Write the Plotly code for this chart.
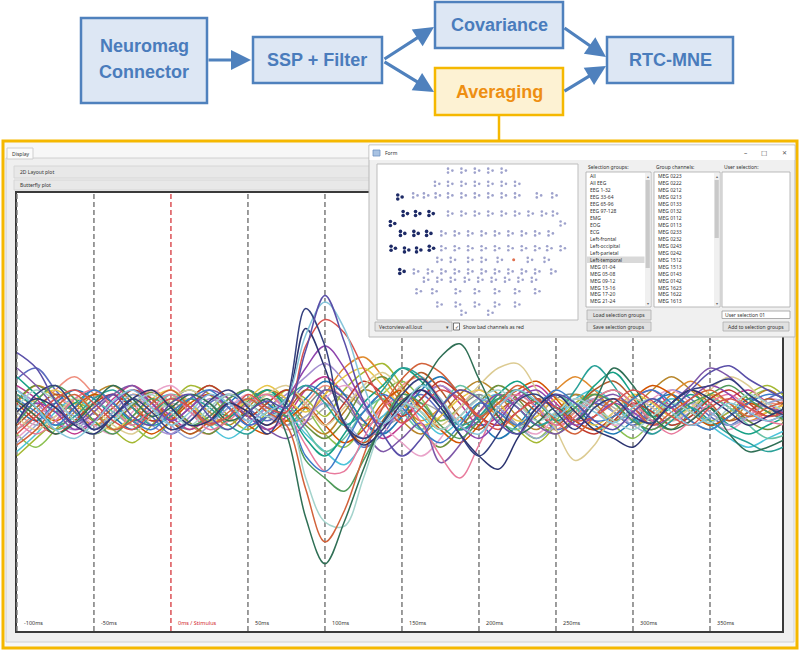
import plotly.graph_objects as go

W, H = 800, 651

# ---------------- data ----------------
time_ms = [-100, -87.5, -75, -62.5, -50, -37.5, -25, -12.5, 0, 12.5, 25, 37.5, 50, 62.5, 75, 87.5,
           100, 112.5, 125, 137.5, 150, 162.5, 175, 187.5, 200, 212.5, 225, 237.5, 250, 262.5,
           275, 287.5, 300, 312.5, 325, 337.5, 350, 362.5, 375, 387.5, 400]

ch01 = [-0.05, 0.08, 0.12, 0.02, -0.08, -0.02, 0.06, 0.0, -0.08, -0.04, 0.05, 0.1, 0.02, -0.1, 0.05, 0.47, 0.3, -0.05, -0.12, -0.05, 0.08, 0.15, 0.05, -0.1, -0.2, -0.1, 0.05, 0.08, 0.0, -0.08, 0.02, 0.06, -0.02, -0.05, 0.04, 0.1, 0.12, 0.15, 0.08, 0.02, -0.02]
ch02 = [0.27, 0.2, 0.05, -0.05, 0.02, 0.08, -0.02, -0.06, 0.04, 0.08, -0.02, -0.08, 0.0, 0.05, 0.02, 0.28, 0.53, 0.32, 0.05, -0.1, -0.2, -0.12, 0.02, 0.1, 0.06, -0.05, -0.1, 0.0, 0.08, 0.04, -0.04, -0.08, 0.0, 0.06, 0.02, 0.1, 0.18, 0.21, 0.15, 0.1, 0.05]
ch03 = [0.1, 0.02, -0.08, -0.12, -0.05, 0.05, 0.1, 0.02, -0.06, 0.0, 0.08, 0.04, -0.04, 0.0, 0.06, 0.35, 0.5, 0.38, 0.12, -0.05, 0.02, 0.12, 0.06, -0.06, -0.1, 0.02, 0.1, 0.05, -0.02, 0.04, 0.0, -0.05, 0.02, 0.06, 0.0, -0.06, -0.02, 0.04, 0.0, -0.04, 0.0]
ch04 = [-0.1, -0.02, 0.06, 0.1, 0.04, -0.04, -0.08, 0.0, 0.06, 0.02, -0.05, -0.02, 0.08, 0.02, 0.0, 0.3, 0.42, 0.36, 0.2, 0.05, -0.05, 0.02, 0.1, 0.06, -0.02, -0.08, 0.0, 0.05, 0.02, -0.04, -0.02, 0.04, 0.1, 0.05, -0.02, -0.06, 0.02, 0.06, 0.02, -0.02, 0.0]
ch05 = [0.05, -0.02, -0.1, -0.05, 0.04, 0.12, 0.06, -0.02, 0.02, 0.08, 0.04, -0.04, 0.0, 0.06, -0.1, -0.48, -0.69, -0.5, -0.26, -0.05, 0.05, 0.12, 0.25, 0.31, 0.15, -0.02, -0.1, -0.05, 0.02, -0.04, 0.05, 0.2, 0.12, -0.02, -0.08, -0.04, 0.02, -0.1, -0.18, -0.16, -0.12]
ch06 = [-0.15, -0.08, 0.02, 0.08, 0.0, -0.08, -0.04, 0.04, 0.1, 0.02, -0.06, 0.0, 0.06, 0.0, -0.06, -0.35, -0.59, -0.45, -0.2, 0.02, 0.15, 0.22, 0.18, 0.08, -0.02, 0.04, 0.12, 0.06, -0.04, -0.1, -0.02, 0.06, 0.02, -0.06, 0.0, 0.06, 0.1, 0.04, -0.02, 0.02, 0.05]
ch07 = [0.02, 0.1, 0.05, -0.04, -0.1, -0.04, 0.04, 0.08, 0.0, -0.06, 0.02, 0.08, 0.04, -0.02, 0.0, -0.3, -0.5, -0.52, -0.3, -0.06, 0.04, 0.0, -0.08, -0.02, 0.06, 0.1, 0.04, -0.04, 0.0, 0.06, 0.02, -0.04, -0.08, -0.02, 0.04, 0.0, -0.05, 0.02, 0.08, 0.04, 0.0]
ch08 = [-0.05, 0.05, 0.12, 0.06, -0.04, -0.1, -0.02, 0.06, 0.02, -0.06, -0.02, 0.06, 0.1, 0.02, -0.02, -0.22, -0.3, -0.36, -0.22, -0.05, 0.08, 0.04, -0.06, -0.12, -0.04, 0.06, 0.1, 0.04, -0.02, 0.02, 0.08, 0.04, -0.04, -0.08, -0.02, 0.04, 0.08, 0.12, 0.06, 0.0, -0.04]
ch09 = [0.06, 0.0, -0.06, 0.02, 0.1, 0.04, -0.04, -0.08, 0.0, 0.06, 0.1, 0.02, -0.06, -0.02, 0.0, -0.2, -0.27, -0.15, 0.0, 0.08, 0.02, -0.08, -0.14, -0.06, 0.04, 0.0, -0.06, 0.02, 0.1, 0.04, -0.04, -0.02, 0.06, 0.1, 0.04, -0.04, -0.08, -0.02, 0.04, 0.08, 0.06]
ch10 = [-0.04, -0.1, -0.04, 0.06, 0.1, 0.02, -0.06, 0.02, 0.08, 0.0, -0.08, -0.04, 0.04, 0.08, 0.0, -0.15, -0.27, -0.27, -0.12, 0.02, 0.06, -0.05, -0.2, -0.3, -0.15, 0.02, 0.08, 0.02, -0.06, -0.02, 0.06, 0.1, 0.04, -0.04, -0.1, -0.04, 0.04, 0.08, 0.02, -0.04, -0.06]
ch11 = [0.2, 0.12, 0.02, -0.06, 0.0, 0.08, 0.12, 0.04, -0.04, 0.02, 0.1, 0.06, -0.02, -0.08, -0.12, -0.05, 0.1, 0.06, -0.08, -0.18, -0.12, -0.05, -0.23, -0.15, 0.0, 0.08, 0.02, -0.06, -0.1, -0.04, 0.04, 0.08, 0.02, -0.04, 0.04, 0.12, 0.2, 0.16, 0.08, 0.02, 0.0]
ch12 = [0.0, 0.06, 0.02, -0.06, -0.1, -0.02, 0.06, 0.1, 0.02, -0.06, -0.04, 0.04, 0.0, -0.06, 0.04, 0.38, 0.2, -0.05, -0.15, -0.08, 0.04, 0.1, 0.02, -0.1, -0.2, -0.26, -0.12, 0.02, 0.08, 0.0, -0.08, -0.12, -0.16, -0.06, 0.04, 0.1, 0.06, 0.0, -0.06, -0.02, 0.02]
ch13 = [-0.02, -0.08, -0.02, 0.06, 0.02, -0.06, -0.1, -0.02, 0.06, 0.1, 0.04, -0.04, 0.0, 0.08, 0.12, 0.04, -0.06, 0.02, 0.12, 0.18, 0.1, 0.0, -0.06, 0.02, 0.12, 0.2, 0.22, 0.1, -0.08, -0.22, -0.15, 0.0, 0.06, 0.02, -0.04, 0.02, 0.1, 0.16, 0.12, 0.02, -0.06]
ch14 = [0.08, 0.02, -0.06, -0.02, 0.06, 0.1, 0.02, -0.06, -0.02, 0.06, 0.02, -0.06, -0.1, -0.02, 0.06, 0.12, 0.04, -0.06, 0.0, 0.1, 0.2, 0.16, 0.04, -0.06, -0.02, 0.06, 0.02, -0.06, -0.02, 0.1, 0.21, 0.12, -0.02, -0.1, -0.04, 0.02, -0.04, -0.1, -0.14, -0.18, -0.15]
ch15 = [-0.2, -0.12, -0.04, 0.04, 0.0, -0.08, -0.14, -0.06, 0.04, 0.12, 0.08, -0.02, -0.08, 0.0, 0.1, 0.06, -0.02, 0.1, 0.18, 0.22, 0.12, 0.0, -0.08, -0.02, 0.06, 0.0, -0.08, -0.14, -0.06, 0.04, 0.08, 0.0, -0.06, -0.02, 0.06, 0.02, -0.04, 0.0, 0.08, 0.12, 0.06]
ch16 = [0.04, 0.12, 0.08, 0.0, -0.06, 0.0, 0.08, 0.04, -0.04, -0.1, -0.04, 0.06, 0.1, 0.04, -0.04, -0.02, 0.08, 0.2, 0.25, 0.16, 0.04, -0.04, 0.02, 0.1, 0.06, -0.02, -0.06, 0.02, 0.1, 0.16, 0.1, 0.0, -0.06, 0.0, 0.08, 0.14, 0.08, 0.02, -0.04, 0.0, 0.04]
ch17 = [0.0, -0.06, -0.02, 0.06, 0.1, 0.04, -0.04, -0.02, 0.04, 0.0, -0.06, -0.02, 0.04, 0.08, 0.02, -0.04, 0.02, 0.08, 0.02, -0.06, -0.02, 0.04, 0.0, -0.06, -0.02, 0.04, 0.08, 0.02, -0.04, 0.0, 0.06, 0.02, -0.04, -0.02, 0.04, 0.0, -0.04, 0.0, 0.04, 0.02, 0.0]
ch18 = [0.12, 0.06, -0.04, -0.1, -0.04, 0.06, 0.12, 0.06, -0.02, -0.08, -0.02, 0.04, -0.02, -0.08, -0.02, 0.1, 0.16, 0.08, -0.04, -0.12, -0.06, 0.06, 0.12, 0.04, -0.06, -0.02, 0.08, 0.12, 0.04, -0.04, -0.08, -0.02, 0.06, 0.1, 0.02, -0.06, -0.02, 0.06, 0.1, 0.04, -0.02]
ch19 = [-0.1, -0.16, -0.08, 0.02, 0.08, 0.02, -0.06, -0.12, -0.04, 0.06, 0.12, 0.06, -0.02, 0.04, 0.1, 0.02, -0.1, -0.16, -0.06, 0.08, 0.14, 0.06, -0.04, 0.02, 0.1, 0.04, -0.06, -0.12, -0.04, 0.06, 0.02, -0.06, -0.12, -0.04, 0.04, 0.0, -0.06, -0.02, 0.06, 0.1, 0.04]
ch20 = [0.15, 0.2, 0.1, 0.0, -0.08, -0.02, 0.04, -0.02, -0.1, -0.04, 0.04, 0.08, 0.02, -0.04, 0.02, 0.12, 0.08, -0.06, -0.16, -0.1, 0.02, 0.08, 0.0, -0.08, -0.04, 0.06, 0.1, 0.02, -0.08, -0.04, 0.04, 0.0, -0.06, 0.02, 0.1, 0.06, -0.02, -0.06, 0.0, 0.06, 0.1]
ch21 = [-0.08, 0.0, 0.1, 0.16, 0.08, -0.02, 0.02, 0.1, 0.04, -0.06, -0.1, -0.02, 0.06, 0.02, -0.04, 0.04, 0.12, 0.06, -0.04, 0.02, 0.12, 0.16, 0.06, -0.04, 0.0, 0.08, 0.04, -0.04, -0.08, 0.0, 0.08, 0.04, -0.04, -0.08, -0.02, 0.04, 0.0, -0.06, -0.02, 0.04, 0.02]
ch22 = [-0.18, -0.1, 0.0, 0.06, 0.0, -0.08, -0.04, 0.04, 0.08, 0.02, -0.06, -0.12, -0.06, 0.02, 0.0, -0.1, -0.18, -0.24, -0.14, -0.02, 0.04, -0.02, -0.1, -0.04, 0.04, 0.08, 0.02, -0.06, -0.02, 0.06, 0.1, 0.04, -0.04, 0.0, 0.06, 0.02, -0.06, -0.12, -0.16, -0.12, -0.08]
ch23 = [0.06, -0.02, -0.08, 0.0, 0.08, 0.12, 0.04, -0.04, 0.0, 0.06, 0.0, -0.06, 0.02, 0.1, 0.06, -0.04, -0.1, 0.0, 0.1, 0.06, -0.04, -0.1, -0.02, 0.08, 0.14, 0.08, -0.02, -0.08, 0.0, 0.08, 0.04, -0.04, 0.02, 0.1, 0.16, 0.1, 0.02, -0.04, 0.04, 0.1, 0.04]
ch24 = [0.1, 0.04, -0.04, -0.08, 0.0, 0.08, 0.02, -0.06, -0.1, -0.02, 0.06, 0.02, -0.04, 0.02, 0.08, 0.16, 0.22, 0.14, 0.02, -0.06, 0.0, 0.06, 0.12, 0.06, -0.02, -0.06, 0.0, 0.06, 0.02, -0.04, -0.08, -0.02, 0.06, 0.02, -0.04, 0.0, 0.06, 0.02, -0.04, -0.02, 0.02]
ch25 = [0.05, 0.12, 0.06, -0.04, -0.1, -0.05, 0.03, 0.09, 0.03, -0.05, -0.1, -0.03, 0.05, 0.1, 0.04, -0.06, -0.12, -0.04, 0.1, 0.16, 0.06, -0.08, -0.16, -0.08, 0.04, 0.12, 0.06, -0.04, -0.1, -0.02, 0.06, 0.1, 0.04, -0.04, -0.08, 0.0, 0.08, 0.04, -0.04, -0.08, -0.04]
ch26 = [-0.12, -0.04, 0.06, 0.02, -0.06, -0.1, 0.0, 0.08, 0.12, 0.04, -0.04, 0.02, 0.08, 0.0, -0.08, -0.04, 0.06, 0.12, 0.06, -0.06, -0.14, -0.2, -0.12, 0.02, 0.1, 0.04, -0.06, -0.1, -0.02, 0.06, 0.02, -0.06, -0.02, 0.06, 0.1, 0.04, -0.04, -0.08, -0.02, 0.06, 0.04]
ch27 = [0.02, -0.04, 0.04, 0.1, 0.06, -0.02, -0.08, -0.02, 0.06, 0.02, -0.04, 0.04, 0.1, 0.04, -0.02, 0.06, 0.14, 0.08, -0.04, -0.1, -0.02, 0.1, 0.16, 0.08, -0.04, -0.12, -0.06, 0.04, 0.08, 0.02, -0.06, -0.1, -0.04, 0.04, 0.08, 0.02, -0.06, -0.02, 0.06, 0.02, -0.04]
ch28 = [-0.06, 0.02, 0.08, 0.04, -0.04, 0.02, 0.1, 0.06, -0.04, -0.1, -0.04, 0.04, 0.0, -0.06, 0.0, 0.1, 0.06, -0.06, -0.14, -0.04, 0.1, 0.18, 0.1, -0.02, -0.08, 0.0, 0.06, 0.0, -0.06, 0.02, 0.1, 0.14, 0.06, -0.02, 0.04, 0.1, 0.04, -0.04, 0.0, 0.06, 0.02]
ch29 = [0.1, 0.02, -0.08, -0.04, 0.04, 0.0, -0.06, 0.0, 0.08, 0.04, -0.04, -0.08, 0.0, 0.08, 0.04, -0.08, -0.18, -0.12, 0.0, 0.06, 0.0, -0.08, 0.02, 0.12, 0.06, -0.04, -0.08, 0.0, 0.08, 0.02, -0.08, -0.04, 0.04, 0.0, -0.06, -0.02, 0.06, 0.02, -0.06, -0.12, -0.1]
ch30 = [-0.04, 0.04, 0.0, -0.08, -0.04, 0.04, 0.1, 0.04, -0.04, 0.02, 0.08, 0.02, -0.06, -0.02, 0.06, 0.2, 0.3, 0.2, 0.04, -0.06, 0.02, 0.1, 0.04, -0.06, -0.12, -0.04, 0.06, 0.1, 0.02, -0.06, -0.02, 0.04, 0.0, -0.06, -0.02, 0.06, 0.12, 0.08, 0.0, -0.04, 0.0]
ch31 = [0.0, 0.06, 0.1, 0.04, -0.04, -0.08, -0.02, 0.06, 0.1, 0.04, -0.04, -0.02, 0.06, 0.12, 0.06, 0.0, 0.08, 0.16, 0.2, 0.12, 0.02, -0.06, -0.02, 0.06, 0.1, 0.04, -0.04, -0.02, 0.06, 0.0, -0.06, 0.0, 0.08, 0.04, -0.02, 0.02, 0.08, 0.04, -0.02, 0.0, 0.04]
ch32 = [0.08, 0.02, -0.04, 0.02, 0.08, 0.04, -0.04, -0.1, -0.04, 0.04, 0.08, 0.02, -0.06, -0.1, -0.04, 0.02, -0.06, -0.14, -0.08, 0.04, 0.1, 0.02, -0.08, -0.14, -0.06, 0.04, 0.1, 0.14, 0.06, -0.04, -0.08, -0.02, 0.06, 0.12, 0.08, 0.0, -0.06, -0.02, 0.04, 0.0, -0.04]
ch33 = [-0.08, -0.02, 0.04, 0.0, -0.06, -0.02, 0.06, 0.02, -0.04, -0.08, 0.0, 0.08, 0.04, -0.02, -0.06, 0.02, 0.1, 0.04, -0.06, -0.02, 0.06, 0.02, -0.04, 0.02, 0.08, 0.02, -0.06, -0.02, 0.06, 0.08, 0.02, -0.04, 0.0, 0.06, 0.02, -0.04, -0.08, -0.02, 0.04, 0.02, -0.02]
ch34 = [0.16, 0.08, 0.0, 0.04, 0.1, 0.04, -0.04, 0.0, 0.06, 0.1, 0.04, -0.02, 0.04, 0.1, 0.02, -0.12, -0.2, -0.1, 0.04, 0.12, 0.2, 0.14, 0.02, -0.08, -0.02, 0.08, 0.14, 0.06, -0.04, 0.02, 0.12, 0.18, 0.08, -0.02, 0.02, 0.08, 0.02, -0.06, -0.1, -0.06, -0.02]
ch35 = [0.04, -0.04, -0.1, -0.04, 0.04, 0.08, 0.02, -0.04, -0.02, 0.06, 0.12, 0.06, -0.02, 0.04, 0.1, 0.04, -0.06, 0.04, 0.14, 0.08, -0.02, 0.06, 0.14, 0.08, -0.02, -0.06, 0.0, 0.06, 0.02, -0.06, -0.1, -0.04, 0.04, 0.0, -0.06, -0.02, 0.06, 0.1, 0.04, -0.02, 0.02]
ch36 = [-0.14, -0.06, 0.02, -0.02, -0.08, 0.0, 0.08, 0.02, -0.06, -0.12, -0.06, 0.02, 0.06, 0.0, -0.06, -0.02, 0.04, -0.04, -0.12, -0.06, 0.04, 0.0, -0.08, -0.02, 0.06, 0.02, -0.06, -0.12, -0.06, 0.02, 0.06, 0.0, -0.06, -0.1, -0.04, 0.04, 0.0, -0.06, -0.02, 0.04, 0.06]

channels = [ch17, ch33, ch19, ch21, ch23, ch15, ch16, ch18, ch20, ch22, ch24, ch25, ch26, ch27, ch28,
            ch29, ch31, ch32, ch34, ch35, ch36, ch13, ch14, ch11, ch10, ch30,
            ch09, ch08, ch07, ch06, ch05, ch04, ch12, ch03, ch01, ch02]
channel_colors = ['#a8a8a8', '#7f8c8d', '#8cc152', '#ef8f7f', '#b8862b', '#a4b832', '#e08a2c', '#c0398e',
                  '#5b6bbf', '#4cc3d9', '#a58fd0', '#6d8f3a', '#e9a3c9', '#1f78b4', '#b15928',
                  '#66c2a5', '#e8c547', '#d35400', '#16a085', '#c0392b', '#95a5d6',
                  '#dccb92', '#2aa198', '#7e57a8', '#e87a9c', '#8e44ad',
                  '#3d7cc9', '#4f9a5a', '#a3d3cc', '#d2623a', '#2f6f55', '#d9534f', '#2c3470', '#86c5da',
                  '#34407f', '#5a4fa8']

tick_vals = [-100, -50, 0, 50, 100, 150, 200, 250, 300, 350]
tick_labels = ['-100ms', '-50ms', '0ms / Stimulus', '50ms', '100ms', '150ms', '200ms', '250ms', '300ms', '350ms']

selection_groups = ['All', 'All EEG', 'EEG 1-32', 'EEG 33-64', 'EEG 65-96', 'EEG 97-128', 'EMG', 'EOG',
                    'ECG', 'Left-frontal', 'Left-occipital', 'Left-parietal', 'Left-temporal',
                    'MEG 01-04', 'MEG 05-08', 'MEG 09-12', 'MEG 13-16', 'MEG 17-20', 'MEG 21-24']
group_channels = ['MEG 0223', 'MEG 0222', 'MEG 0212', 'MEG 0213', 'MEG 0133', 'MEG 0132', 'MEG 0112',
                  'MEG 0113', 'MEG 0233', 'MEG 0232', 'MEG 0243', 'MEG 0242', 'MEG 1512', 'MEG 1513',
                  'MEG 0143', 'MEG 0142', 'MEG 1623', 'MEG 1622', 'MEG 1613']

# sensor layout (layout-view coordinates)
sensor_row_y = [60, 100, 135, 190, 220, 250, 295, 330, 365, 390, 425, 465, 490]
sensor_row_x = [[232, 272, 312, 352, 392],
                [193, 232, 272, 312, 352, 392, 432],
                [128, 160, 195, 232, 272, 312, 352, 392, 432, 497, 543],
                [232, 272, 312, 352, 392, 432, 472, 512, 545],
                [568],
                [212, 252, 292, 332, 372, 412, 452, 492, 532],
                [212, 252, 292, 332, 372, 412, 452, 492, 528, 568],
                [200, 240, 292, 332, 380, 470, 520],
                [130, 172, 212, 252, 292, 332, 372, 412, 452, 492, 540],
                [160, 200, 240, 282, 322, 362, 402, 442, 482],
                [138, 185, 255, 312, 372, 432, 492],
                [200, 255, 312, 372, 432],
                [272, 352]]
selected_x = [82, 98, 135, 175, 60, 90, 130, 168, 62, 102, 138, 176, 88]
selected_y = [140, 190, 190, 190, 220, 250, 250, 250, 295, 300, 300, 295, 365]
bad_x = [428]
bad_y = [330]

# ---------------- helpers ----------------
def PX(x):
    return x / W

def PY(y):
    return 1 - y / H

shapes = []
annotations = []

def rect(x0, y0, x1, y1, fill='rgba(0,0,0,0)', line=None, lw=1):
    shapes.append(dict(type='rect', xref='paper', yref='paper', x0=PX(x0), x1=PX(x1),
                       y0=PY(y1), y1=PY(y0), fillcolor=fill, layer='below',
                       line=dict(color=line if line else 'rgba(0,0,0,0)', width=lw if line else 0)))

def seg(x0, y0, x1, y1, color, lw=1):
    shapes.append(dict(type='line', xref='paper', yref='paper', x0=PX(x0), x1=PX(x1),
                       y0=PY(y0), y1=PY(y1), layer='below', line=dict(color=color, width=lw)))

def text(x, y, s, size=5.5, color='#333333', xanchor='left', family='Noto Sans', bold=False):
    annotations.append(dict(x=PX(x), y=PY(y), xref='paper', yref='paper',
                            text=('<b>%s</b>' % s) if bold else s, showarrow=False,
                            xanchor=xanchor, yanchor='middle', borderpad=0,
                            font=dict(size=size, color=color, family=family)))

def arrow(x0, y0, x1, y1, color='#4f81bd'):
    annotations.append(dict(x=PX(x1), y=PY(y1), xref='paper', yref='paper', text='',
                            showarrow=True, ax=x0 - x1, ay=y0 - y1, axref='pixel', ayref='pixel',
                            arrowhead=2, arrowsize=1.25, arrowwidth=3.2, arrowcolor=color))

# ---------------- flow diagram ----------------
BLUE_FILL, BLUE_LINE, BLUE_TXT = '#dde7f4', '#4f81bd', '#4a7cbc'
OR_FILL, OR_LINE, OR_TXT = '#fdf2d3', '#f5b800', '#ee8f12'

arrow(207, 60, 251, 60)
arrow(383, 60, 434, 27)
arrow(383, 61, 434, 92)
arrow(563, 27, 606, 57)
arrow(563, 92, 606, 66)

rect(81, 18, 207, 103, BLUE_FILL, BLUE_LINE, 2.5)
rect(253, 37, 382, 83, BLUE_FILL, BLUE_LINE, 2.5)
rect(435, 2, 563, 48, BLUE_FILL, BLUE_LINE, 2.5)
rect(435, 68, 563, 115, OR_FILL, OR_LINE, 2.5)
rect(607, 37, 733, 83, BLUE_FILL, BLUE_LINE, 2.5)
seg(499, 115, 499, 141, OR_LINE, 2.5)

FF = 'Liberation Sans'
text(144, 46, 'Neuromag', 18, BLUE_TXT, 'center', FF, True)
text(144, 72, 'Connector', 18, BLUE_TXT, 'center', FF, True)
text(317, 60, 'SSP + Filter', 18, BLUE_TXT, 'center', FF, True)
text(499, 25, 'Covariance', 18, BLUE_TXT, 'center', FF, True)
text(499, 92, 'Averaging', 18, OR_TXT, 'center', FF, True)
text(670, 60, 'RTC-MNE', 18, BLUE_TXT, 'center', FF, True)

# ---------------- display window ----------------
rect(3, 141, 797, 648, '#f7f7f7', OR_LINE, 3)
rect(6, 158, 794, 642, '#efefef', '#d0d0d0', 1)
rect(7, 148, 33, 159, '#fbfbfb', '#cfcfcf', 1)
text(11, 153.5, 'Display', 5)
rect(14, 166, 794, 178, '#e8e8e8', '#d6d6d6', 1)
text(19, 172, '2D Layout plot', 5)
rect(14, 180, 794, 190, '#e8e8e8', '#d6d6d6', 1)
text(19, 185, 'Butterfly plot', 5)

# butterfly plot area
PLOT_X0, PLOT_X1, PLOT_Y0, PLOT_Y1 = 16, 783, 192, 632
rect(PLOT_X0, PLOT_Y0, PLOT_X1, PLOT_Y1, '#ffffff', '#3a3a3a', 2)
for tv, tl in zip(tick_vals, tick_labels):
    red = (tv == 0)
    col = '#d2262c' if red else '#7c7c7c'
    shapes.append(dict(type='line', xref='x', yref='paper', x0=tv, x1=tv,
                       y0=PY(PLOT_Y1 - 1), y1=PY(PLOT_Y0 + 1), layer='below',
                       line=dict(color=col, width=1.5 if not red else 1.2, dash='5px,3px')))
    annotations.append(dict(x=tv, y=PY(623), xref='x', yref='paper', text=tl, showarrow=False,
                            xanchor='left', yanchor='middle', xshift=5,
                            font=dict(size=5.5, color=col if red else '#333333', family='Noto Sans')))

# ---------------- Form dialog ----------------
rect(369, 145, 795, 337, '#f0f0f0', '#b9b9b9', 1)
rect(369.5, 145.5, 794.5, 160, '#ffffff')
rect(373, 150, 380, 156, '#a9c3e3', '#6f93c2', 0.8)
text(384, 153, 'Form', 5)
text(745, 152.5, '–', 6.5, '#555555', 'center')
text(764, 153, '☐', 6.5, '#555555', 'center')
text(784, 153, '✕', 6, '#555555', 'center')

rect(377, 164, 578, 320, '#ffffff', '#bdbdbd', 1)
rect(375, 322, 452, 331, '#e5e5e5', '#adadad', 0.8)
text(378, 326.5, 'Vectorview-all.lout', 5)
text(447, 326.5, '▾', 5, '#444444', 'center')
rect(453.5, 323, 459.5, 330, '#ffffff', '#555555', 0.8)
text(456.5, 326.5, '✓', 5, '#333333', 'center')
text(462, 326.5, 'Show bad channels as red', 5)

text(587, 167.5, 'Selection groups:', 5)
text(655, 167.5, 'Group channels:', 5)
text(723, 167.5, 'User selection:', 5)
rect(586, 172, 651, 307, '#ffffff', '#a9a9a9', 0.8)
rect(654, 172, 720, 307, '#ffffff', '#a9a9a9', 0.8)
rect(722, 172, 790, 307, '#ffffff', '#a9a9a9', 0.8)
rect(645, 173, 650.5, 306, '#f0f0f0')
rect(645.6, 180, 649.8, 268, '#c9c9c9')
rect(714, 173, 719.5, 306, '#f0f0f0')
rect(714.6, 180, 718.8, 238, '#c9c9c9')
for sx in (647.8, 716.8):
    text(sx, 176, '▴', 4, '#666666', 'center')
    text(sx, 303, '▾', 4, '#666666', 'center')
rect(587, 256.5, 644.5, 263, '#d9d9d9')
for i, s in enumerate(selection_groups):
    text(589, 176.3 + 6.95 * i, s, 5)
for i, s in enumerate(group_channels):
    text(657, 176.3 + 6.95 * i, s, 5)

rect(722, 311, 790, 318.5, '#ffffff', '#9a9a9a', 0.8)
text(724, 314.8, 'User selection 01', 5)
rect(587, 310, 651, 320, '#e1e1e1', '#adadad', 0.8)
text(619, 315, 'Load selection groups', 5, '#333333', 'center')
rect(587, 322, 651, 331, '#e1e1e1', '#adadad', 0.8)
text(619, 326.5, 'Save selection groups', 5, '#333333', 'center')
rect(723, 322, 789, 331, '#e1e1e1', '#adadad', 0.8)
text(756, 326.5, 'Add to selection groups', 5, '#333333', 'center')

# ---------------- traces ----------------
fig = go.Figure()
for vals, col in zip(channels, channel_colors):
    fig.add_trace(go.Scatter(x=time_ms, y=vals, mode='lines',
                             line=dict(color=col, width=1.5, shape='spline', smoothing=1.0),
                             hoverinfo='skip', showlegend=False, xaxis='x', yaxis='y'))

norm_x, norm_y = [], []
for ry, xs in zip(sensor_row_y, sensor_row_x):
    for sx in xs:
        norm_x.append(sx)
        norm_y.append(ry)

def sensor_trace(xs, ys, color, size):
    px, py = [], []
    for sx, sy in zip(xs, ys):
        px += [sx, sx, sx + 13]
        py += [sy - 6, sy + 6, sy]
    return go.Scatter(x=px, y=py, mode='markers', marker=dict(color=color, size=size),
                      hoverinfo='skip', showlegend=False, xaxis='x2', yaxis='y2')

fig.add_trace(sensor_trace(norm_x, norm_y, '#9ea2cc', 2.6))
fig.add_trace(sensor_trace(selected_x, selected_y, '#1d2a66', 3.6))
fig.add_trace(go.Scatter(x=bad_x, y=bad_y, mode='markers', marker=dict(color='#e0704e', size=3),
                         hoverinfo='skip', showlegend=False, xaxis='x2', yaxis='y2'))

fig.update_layout(
    width=W, height=H, margin=dict(l=0, r=0, t=0, b=0),
    paper_bgcolor='#ffffff', plot_bgcolor='rgba(0,0,0,0)',
    xaxis=dict(domain=[PX(PLOT_X0), PX(PLOT_X1)], range=[-100.6, 397.4], visible=False,
               showgrid=False, zeroline=False, fixedrange=True),
    yaxis=dict(domain=[PY(PLOT_Y1), PY(PLOT_Y0)], range=[-1, 1], visible=False,
               showgrid=False, zeroline=False, fixedrange=True),
    xaxis2=dict(domain=[PX(377), PX(578)], range=[20, 620], visible=False, anchor='y2'),
    yaxis2=dict(domain=[PY(320), PY(164)], range=[512, 40], visible=False, anchor='x2'),
    shapes=shapes, annotations=annotations, showlegend=False,
)

fig.write_html('out.html', config={'displayModeBar': False},
               post_script="document.body.style.margin='0px';document.body.style.overflow='hidden';")
